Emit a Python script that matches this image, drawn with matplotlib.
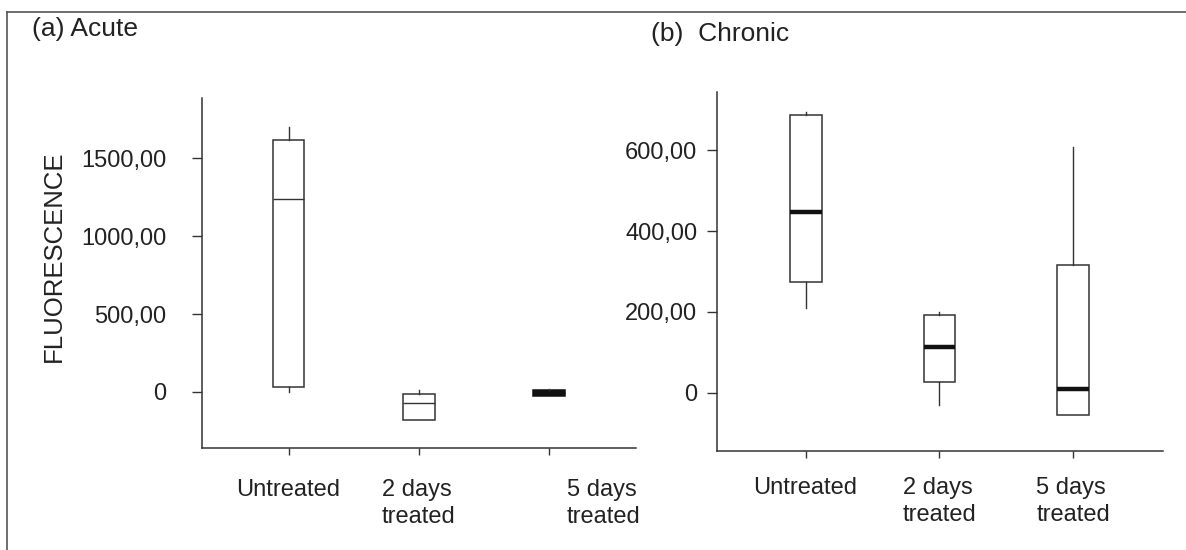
import matplotlib
matplotlib.use("Agg")
import matplotlib.pyplot as plt
import matplotlib.transforms as mtransforms
from matplotlib.lines import Line2D

plt.rcParams['font.family'] = ['Liberation Sans', 'DejaVu Sans']

# ---- data ----
categories = ["Untreated", "2 days\ntreated", "5 days\ntreated"]

acute_whislo = [0, -181, -25]
acute_q1 = [31, -181, -25]
acute_med = [1239, -72, -8]
acute_q3 = [1617, -15, 12]
acute_whishi = [1702, 11, 20]

chronic_whislo = [211, -29, -55]
chronic_q1 = [275, 28, -55]
chronic_med = [446, 113, 9]
chronic_q3 = [687, 192, 315]
chronic_whishi = [694, 199, 609]

acute_yticks = [0, 500, 1000, 1500]
acute_ytick_labels = ["0", "500,00", "1000,00", "1500,00"]
chronic_yticks = [0, 200, 400, 600]
chronic_ytick_labels = ["0", "200,00", "400,00", "600,00"]

EDGE = "#333333"
TXT = "#222222"


def make_stats(lo, q1, med, q3, hi):
    return [dict(whislo=a, q1=b, med=c, q3=d, whishi=e, fliers=[])
            for a, b, c, d, e in zip(lo, q1, med, q3, hi)]


def style_axis(ax, ylim, yticks, ylabels, ypad, xpad):
    ax.set_xlim(0.335, 3.67)
    ax.set_ylim(*ylim)
    ax.set_yticks(yticks)
    ax.set_yticklabels(ylabels)
    ax.set_xticks([1, 2, 3])
    ax.set_xticklabels(categories, multialignment='left', linespacing=1.3)
    for s in ['top', 'right']:
        ax.spines[s].set_visible(False)
    for s in ['left', 'bottom']:
        ax.spines[s].set_color(EDGE)
        ax.spines[s].set_linewidth(1.1)
    ax.tick_params(axis='y', length=7.5, width=1.0, color=EDGE,
                   labelsize=17, labelcolor=TXT, pad=ypad)
    ax.tick_params(axis='x', length=5, width=1.0, color=EDGE,
                   labelsize=17, labelcolor=TXT, pad=xpad)


fig = plt.figure(figsize=(11.86, 5.5), dpi=100)

# (a) Acute
ax1 = fig.add_axes([0.1703, 0.1855, 0.366, 0.6363])
bp = ax1.bxp(make_stats(acute_whislo, acute_q1, acute_med, acute_q3, acute_whishi),
             positions=[1, 2, 3], widths=0.245, showcaps=False, showfliers=False,
             patch_artist=True,
             boxprops=dict(facecolor='white', edgecolor=EDGE, linewidth=1.1),
             whiskerprops=dict(color=EDGE, linewidth=1.0),
             medianprops=dict(color=EDGE, linewidth=1.0))
bp['boxes'][2].set_facecolor('#111111')
bp['boxes'][2].set_edgecolor('#111111')
bp['medians'][2].set_color('#111111')
style_axis(ax1, (-359, 1885), acute_yticks, acute_ytick_labels, 18, 17)
# last category label sits to the right of its tick
lab = ax1.get_xticklabels()[2]
lab.set_transform(lab.get_transform() +
                  mtransforms.ScaledTranslation(0.55, 0, fig.dpi_scale_trans))

# (b) Chronic
ax2 = fig.add_axes([0.6042, 0.1805, 0.3764, 0.6524])
ax2.bxp(make_stats(chronic_whislo, chronic_q1, chronic_med, chronic_q3, chronic_whishi),
        positions=[1, 2, 3], widths=0.238, showcaps=False, showfliers=False,
        patch_artist=True,
        boxprops=dict(facecolor='white', edgecolor=EDGE, linewidth=1.1),
        whiskerprops=dict(color=EDGE, linewidth=1.0),
        medianprops=dict(color='#111111', linewidth=3.2, solid_capstyle='butt'))
style_axis(ax2, (-143, 744), chronic_yticks, chronic_ytick_labels, 6.5, 14)

# titles and shared y label
fig.text(0.0268, 0.947, "(a) Acute", fontsize=19, color=TXT, ha='left', va='center')
fig.text(0.5487, 0.938, "(b)  Chronic", fontsize=19, color=TXT, ha='left', va='center')
fig.text(0.0452, 0.535, "FLUORESCENCE", fontsize=18.5, color=TXT, rotation=90,
         ha='center', va='center')

# outer frame (top and left only)
fig.add_artist(Line2D([0.0055, 1.0], [0.979, 0.979], color='#555555', linewidth=1.2,
                      transform=fig.transFigure))
fig.add_artist(Line2D([0.0055, 0.0055], [0.0, 0.979], color='#555555', linewidth=1.2,
                      transform=fig.transFigure))

fig.savefig("out.png", dpi=100)
